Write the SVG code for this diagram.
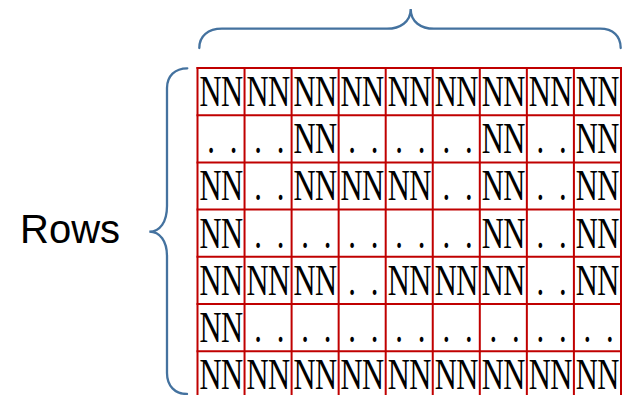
<svg xmlns="http://www.w3.org/2000/svg" width="622" height="395" viewBox="0 0 622 395">
<style>
.grid line{stroke:#C00000;stroke-width:2}
.brace{fill:none;stroke:#44729F;stroke-width:2.3;stroke-linecap:round}
.nn{font-family:"Liberation Serif",serif;font-size:45px;fill:#000;text-anchor:middle}
.lbl{font-family:"Liberation Sans",Arial,sans-serif;font-size:40px;fill:#000}
</style>
<rect width="622" height="395" fill="#fff"/>
<g id="braces">
<path class="brace" d="M199.3,48 C199.3,36 208,28.7 222,28.7 L387,28.7 C400,28.7 410.7,22 410.7,9 C410.7,22 421,28.7 434,28.7 L600,28.7 C613,28.7 620.7,36 620.7,48"/>
<path class="brace" d="M187.3,68.3 C175,68.3 167,76 167,88 L167,206 C167,222 160,231.7 149.3,231.7 C160,231.7 167,241 167,256 L167,373 C167,386 175,394 187,394"/>
</g>
<g id="label-rows"><text class="lbl" x="20" y="242.7">Rows</text></g>
<g id="cells" transform="scale(0.68,1)">
<text class="nn" y="106" x="309.56 341.18 378.75 410.37 447.94 479.56 517.13 548.75 586.32 617.94 655.51 687.13 724.71 756.32 793.90 825.51 863.09 894.71">NNNNNNNNNNNNNNNNNN</text>
<text class="nn" y="153.2" x="310.29 343.38 379.49 412.57 447.94 479.56 517.87 550.96 587.06 620.15 656.25 689.34 724.71 756.32 794.63 827.72 863.09 894.71">....NN......NN..NN</text>
<text class="nn" y="200.4" x="309.56 341.18 379.49 412.57 447.94 479.56 517.13 548.75 586.32 617.94 656.25 689.34 724.71 756.32 794.63 827.72 863.09 894.71">NN..NNNNNN..NN..NN</text>
<text class="nn" y="247.6" x="309.56 341.18 379.49 412.57 448.68 481.76 517.87 550.96 587.06 620.15 656.25 689.34 724.71 756.32 794.63 827.72 863.09 894.71">NN..........NN..NN</text>
<text class="nn" y="294.8" x="309.56 341.18 378.75 410.37 447.94 479.56 517.87 550.96 586.32 617.94 655.51 687.13 724.71 756.32 794.63 827.72 863.09 894.71">NNNNNN..NNNNNN..NN</text>
<text class="nn" y="342" x="309.56 341.18 379.49 412.57 448.68 481.76 517.87 550.96 587.06 620.15 656.25 689.34 725.44 758.53 794.63 827.72 863.82 896.91">NN................</text>
<text class="nn" y="389.2" x="309.56 341.18 378.75 410.37 447.94 479.56 517.13 548.75 586.32 617.94 655.51 687.13 724.71 756.32 793.90 825.51 863.09 894.71">NNNNNNNNNNNNNNNNNN</text>
</g>
<g id="grid" class="grid">
<line x1="196.5" y1="68" x2="622" y2="68"/>
<line x1="196.5" y1="115.2" x2="622" y2="115.2"/>
<line x1="196.5" y1="162.4" x2="622" y2="162.4"/>
<line x1="196.5" y1="209.6" x2="622" y2="209.6"/>
<line x1="196.5" y1="256.8" x2="622" y2="256.8"/>
<line x1="196.5" y1="304" x2="622" y2="304"/>
<line x1="196.5" y1="351.2" x2="622" y2="351.2"/>
<line x1="197.5" y1="67" x2="197.5" y2="395"/>
<line x1="244.55" y1="67" x2="244.55" y2="395"/>
<line x1="291.6" y1="67" x2="291.6" y2="395"/>
<line x1="338.65" y1="67" x2="338.65" y2="395"/>
<line x1="385.7" y1="67" x2="385.7" y2="395"/>
<line x1="432.75" y1="67" x2="432.75" y2="395"/>
<line x1="479.8" y1="67" x2="479.8" y2="395"/>
<line x1="526.85" y1="67" x2="526.85" y2="395"/>
<line x1="573.9" y1="67" x2="573.9" y2="395"/>
<line x1="621" y1="67" x2="621" y2="395"/>
</g>
</svg>
